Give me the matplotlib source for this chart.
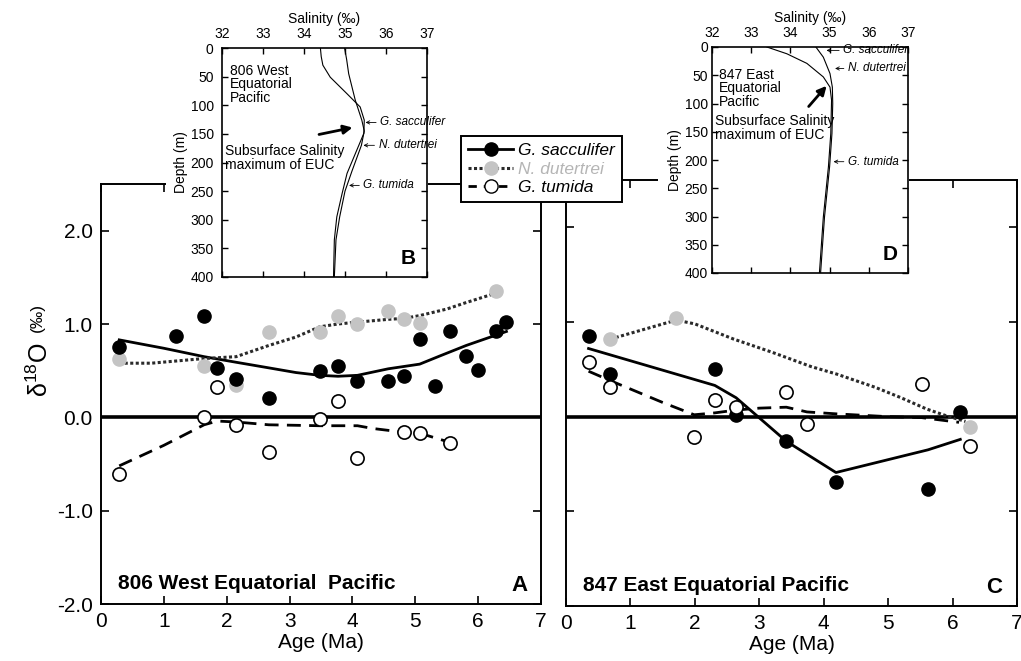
import matplotlib
matplotlib.use('Agg')
import matplotlib.pyplot as plt
from matplotlib.lines import Line2D
from matplotlib.patches import Rectangle

plt.rcParams['font.family'] = ['Liberation Sans', 'DejaVu Sans']
plt.rcParams['axes.unicode_minus'] = False
plt.rcParams['mathtext.fontset'] = 'custom'
plt.rcParams['mathtext.rm'] = 'Liberation Sans'
plt.rcParams['mathtext.it'] = 'Liberation Sans:italic'

# ---------------- Site 806 (West Equatorial Pacific) ----------------
a_sac_age = [0.29, 1.19, 1.64, 1.85, 2.15, 2.67, 3.48, 3.77, 4.08, 4.57, 4.82, 5.07, 5.31, 5.56, 5.81, 5.99, 6.28, 6.45]
a_sac_d18o = [0.75, 0.87, 1.09, 0.53, 0.41, 0.21, 0.50, 0.55, 0.39, 0.39, 0.44, 0.84, 0.34, 0.93, 0.66, 0.51, 0.93, 1.02]
a_dut_age = [0.29, 1.64, 2.15, 2.67, 3.48, 3.77, 4.08, 4.57, 4.82, 5.07, 6.28]
a_dut_d18o = [0.62, 0.55, 0.35, 0.91, 0.91, 1.09, 1.00, 1.14, 1.05, 1.01, 1.35]
a_tum_age = [0.29, 1.64, 1.85, 2.15, 2.67, 3.48, 3.77, 4.08, 4.82, 5.07, 5.56]
a_tum_d18o = [-0.61, 0.00, 0.33, -0.08, -0.37, -0.02, 0.17, -0.44, -0.16, -0.17, -0.28]

a_sac_fit_age = [0.29, 1.0, 1.64, 2.15, 2.67, 3.1, 3.48, 3.77, 4.08, 4.57, 5.07, 5.4, 5.81, 6.28, 6.45]
a_sac_fit = [0.83, 0.74, 0.65, 0.59, 0.53, 0.48, 0.45, 0.44, 0.45, 0.52, 0.57, 0.66, 0.77, 0.88, 0.92]
a_dut_fit_age = [0.29, 0.8, 1.64, 2.15, 2.67, 3.1, 3.48, 3.77, 4.08, 4.57, 4.82, 5.07, 5.5, 5.81, 6.28]
a_dut_fit = [0.58, 0.58, 0.63, 0.65, 0.77, 0.86, 0.97, 1.00, 1.02, 1.05, 1.06, 1.09, 1.16, 1.23, 1.33]
a_tum_fit_age = [0.29, 1.0, 1.64, 1.85, 2.15, 2.67, 3.48, 4.08, 4.33, 4.82, 5.07, 5.56]
a_tum_fit = [-0.52, -0.30, -0.08, -0.04, -0.05, -0.08, -0.09, -0.09, -0.12, -0.16, -0.17, -0.27]

# ---------------- Site 847 (East Equatorial Pacific) ----------------
c_sac_age = [0.35, 0.69, 2.31, 2.64, 3.42, 4.19, 5.62, 6.12]
c_sac_d18o = [0.85, 0.45, 0.50, 0.02, -0.26, -0.69, -0.76, 0.05]
c_dut_age = [0.69, 1.71, 6.27]
c_dut_d18o = [0.82, 1.04, -0.11]
c_tum_age = [0.35, 0.69, 1.99, 2.31, 2.64, 3.42, 3.74, 5.52, 6.27]
c_tum_d18o = [0.58, 0.31, -0.21, 0.18, 0.10, 0.26, -0.08, 0.34, -0.31]

c_sac_fit_age = [0.35, 2.31, 2.64, 3.42, 4.19, 5.62, 6.12]
c_sac_fit = [0.72, 0.33, 0.20, -0.26, -0.59, -0.35, -0.24]
c_dut_fit_age = [0.69, 1.71, 2.0, 2.6, 3.2, 3.8, 4.2, 4.8, 5.2, 5.6, 5.9, 6.2]
c_dut_fit = [0.82, 1.02, 0.98, 0.82, 0.68, 0.53, 0.45, 0.31, 0.20, 0.08, 0.01, -0.05]
c_tum_fit_age = [0.35, 0.69, 1.5, 1.99, 2.31, 2.64, 3.0, 3.42, 3.74, 4.19, 5.0, 5.52, 6.1]
c_tum_fit = [0.48, 0.38, 0.15, 0.02, 0.04, 0.07, 0.09, 0.10, 0.05, 0.03, 0.00, -0.01, -0.06]

# ---------------- Salinity profiles (insets) ----------------
b_sal_1 = [34.40, 34.42, 34.46, 34.64, 35.05, 35.37, 35.47, 35.46, 35.29, 35.05, 34.93, 34.80, 34.74, 34.72]
b_dep_1 = [0, 15, 30, 51, 80, 103, 126, 149, 178, 219, 254, 295, 335, 400]
b_sal_2 = [34.99, 35.04, 35.09, 35.25, 35.41, 35.47, 35.40, 35.17, 35.00, 34.87, 34.78, 34.74]
b_dep_2 = [0, 20, 45, 91, 126, 145, 170, 215, 250, 295, 335, 400]

d_sal_1 = [33.40, 33.91, 34.42, 34.84, 35.01, 35.05, 35.03, 34.97, 34.84, 34.74]
d_dep_1 = [0, 12, 29, 53, 71, 94, 153, 212, 301, 400]
d_sal_2 = [34.65, 34.84, 35.01, 35.07, 35.08, 35.06, 35.00, 34.87, 34.77]
d_dep_2 = [0, 18, 47, 71, 100, 153, 212, 301, 400]

age_ticks = [0, 1, 2, 3, 4, 5, 6, 7]
d18o_ticks = [-2.0, -1.0, 0.0, 1.0, 2.0]
d18o_labels = ['-2.0', '-1.0', '0.0', '1.0', '2.0']
sal_ticks = [32, 33, 34, 35, 36, 37]
depth_ticks = [0, 50, 100, 150, 200, 250, 300, 350, 400]

W, H = 1021, 661
fig = plt.figure(figsize=(W / 100, H / 100), dpi=100)


def fr(x0, y0, x1, y1):
    return [x0 / W, 1 - y1 / H, (x1 - x0) / W, (y1 - y0) / H]


GRAY = '#c4c4c4'
MS = 9.5


def main_panel(rect, sac, dut, tum, sacf, dutf, tumf, title, letter, show_ylabels):
    ax = fig.add_axes(rect)
    ax.set_xlim(0, 7)
    ax.set_ylim(-2.0, 2.5)
    ax.axhline(0, color='black', lw=2.6, zorder=2)
    ax.plot(sacf[0], sacf[1], color='black', lw=2.0, zorder=3)
    ax.plot(dutf[0], dutf[1], color='#2a2a2a', lw=2.2, ls=(0, (1, 0.8)), zorder=3)
    ax.plot(tumf[0], tumf[1], color='black', lw=2.0, ls=(0, (5, 3)), zorder=3)
    ax.plot(dut[0], dut[1], 'o', ms=MS, mfc=GRAY, mec=GRAY, zorder=4)
    ax.plot(sac[0], sac[1], 'o', ms=MS, mfc='black', mec='black', zorder=5)
    ax.plot(tum[0], tum[1], 'o', ms=MS, mfc='white', mec='black', mew=1.2, zorder=5)
    ax.set_xticks(age_ticks)
    ax.set_xticklabels([str(t) for t in age_ticks], fontsize=15)
    ax.set_yticks(d18o_ticks)
    if show_ylabels:
        ax.set_yticklabels(d18o_labels, fontsize=15)
    else:
        ax.set_yticklabels([])
    ax.tick_params(direction='in', top=True, right=True, length=6, width=1.2, pad=6)
    for s in ax.spines.values():
        s.set_linewidth(1.4)
    ax.set_xlabel('Age (Ma)', fontsize=15, labelpad=1)
    ax.text(0.27, -1.78, title, fontsize=15, fontweight='bold', va='center', ha='left')
    ax.text(6.65, -1.8, letter, fontsize=16, fontweight='bold', va='center', ha='center')
    return ax


axA = main_panel(fr(101, 184, 541, 604), (a_sac_age, a_sac_d18o), (a_dut_age, a_dut_d18o),
                 (a_tum_age, a_tum_d18o), (a_sac_fit_age, a_sac_fit), (a_dut_fit_age, a_dut_fit),
                 (a_tum_fit_age, a_tum_fit), '806 West Equatorial  Pacific', 'A', True)
axC = main_panel(fr(566, 180, 1017, 606), (c_sac_age, c_sac_d18o), (c_dut_age, c_dut_d18o),
                 (c_tum_age, c_tum_d18o), (c_sac_fit_age, c_sac_fit), (c_dut_fit_age, c_dut_fit),
                 (c_tum_fit_age, c_tum_fit), '847 East Equatorial Pacific', 'C', False)

# y label
fig.text(40 / W, 1 - 370 / H, r'δ$^{\mathregular{18}}$O', rotation=90, fontsize=18,
         ha='center', va='center')
fig.text(37 / W, 1 - 318 / H, '(‰)', rotation=90, fontsize=12.5, ha='center', va='center')

# masks behind insets
fig.add_artist(Rectangle((166 / W, 1 - 278 / H), (428 - 166) / W, 278 / H,
                         transform=fig.transFigure, facecolor='white', edgecolor='none', zorder=1))
fig.add_artist(Rectangle((658 / W, 1 - 274 / H), (909 - 658) / W, 274 / H,
                         transform=fig.transFigure, facecolor='white', edgecolor='none', zorder=1))


def inset(rect, profiles, site_text, site_xy, arrow_from, arrow_to, euc_xy, labels, letter, ypad):
    ax = fig.add_axes(rect, zorder=2)
    for sal, dep in profiles:
        ax.plot(sal, dep, color='black', lw=0.8)
    ax.set_xlim(32, 37)
    ax.set_ylim(400, 0)
    ax.xaxis.tick_top()
    ax.xaxis.set_label_position('top')
    ax.set_xticks(sal_ticks)
    ax.set_xticklabels([str(t) for t in sal_ticks], fontsize=10)
    ax.set_yticks(depth_ticks)
    ax.set_yticklabels([str(t) for t in depth_ticks], fontsize=10)
    ax.tick_params(direction='in', top=True, bottom=True, left=True, right=True,
                   length=4, width=1.0)
    ax.tick_params(axis='x', pad=5)
    ax.tick_params(axis='y', pad=ypad)
    for s in ax.spines.values():
        s.set_linewidth(1.2)
    ax.set_xlabel('Salinity (‰)', fontsize=10, labelpad=3)
    ax.set_ylabel('Depth (m)', fontsize=10, labelpad=2)
    ax.text(site_xy[0], site_xy[1], site_text, fontsize=10, va='top', ha='left', linespacing=0.95)
    ax.annotate('', xy=arrow_to, xytext=arrow_from,
                arrowprops=dict(arrowstyle='-|>', lw=2.0, color='black', mutation_scale=13))
    ax.text(euc_xy[0], euc_xy[1], 'Subsurface Salinity\nmaximum of EUC', fontsize=10,
            va='top', ha='left', linespacing=0.95)
    for name, tip, tx in labels:
        ax.annotate(name, xy=tip, xytext=(tx, tip[1]), fontsize=8.5, style='italic',
                    va='center', ha='left', annotation_clip=False,
                    arrowprops=dict(arrowstyle='->', lw=0.6, color='black',
                                    shrinkA=1, shrinkB=0, mutation_scale=6))
    ax.text(36.55, 368, letter, fontsize=15, fontweight='bold', ha='center', va='center')
    return ax


inset(fr(222, 48, 427, 277), [(b_sal_1, b_dep_1), (b_sal_2, b_dep_2)],
      '806 West\nEquatorial\nPacific', (32.2, 28), (34.3, 152), (35.25, 138), (32.08, 168),
      [('G. sacculifer', (35.5, 130), 35.86), ('N. dutertrei', (35.45, 170), 35.82),
       ('G. tumida', (35.1, 240), 35.45)], 'B', 6)
inset(fr(712, 47, 908, 273), [(d_sal_1, d_dep_1), (d_sal_2, d_dep_2)],
      '847 East\nEquatorial\nPacific', (32.17, 37), (34.42, 109), (34.97, 65), (32.08, 119),
      [('G. sacculifer', (34.92, 6), 35.35), ('N. dutertrei', (35.14, 38), 35.47),
       ('G. tumida', (35.1, 203), 35.47)], 'D', 3)

# legend
handles = [
    Line2D([], [], color='black', lw=2.0, marker='o', ms=MS, mfc='black', mec='black'),
    Line2D([], [], color='#2a2a2a', lw=2.2, ls=(0, (1, 0.8)), marker='o', ms=MS, mfc=GRAY, mec=GRAY),
    Line2D([], [], color='black', lw=2.0, ls=(0, (3, 2.5)), marker='o', ms=MS, mfc='white', mec='black'),
]
leg = fig.legend(handles, ['G. sacculifer', 'N. dutertrei', 'G. tumida'],
                 loc='upper left', bbox_to_anchor=(461 / W, 1 - 136 / H), borderaxespad=0,
                 fancybox=False, edgecolor='black', framealpha=1, prop={'style': 'italic', 'size': 12.5},
                 handlelength=2.6, handletextpad=0.3, labelspacing=0.2, borderpad=0.4)
leg.get_frame().set_linewidth(1.4)
leg.get_texts()[1].set_color('#b5b5b5')

fig.savefig('out.png', dpi=100)
